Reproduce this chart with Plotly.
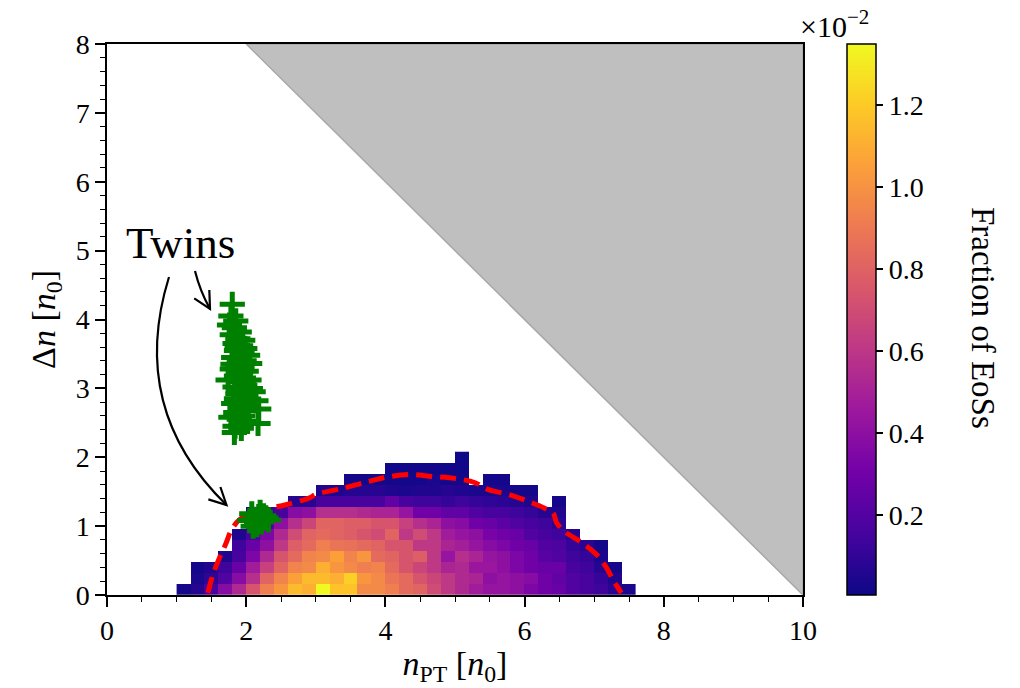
import math
import plotly.graph_objects as go

# ---------------- data ----------------
N_TOTAL = 20000  # number of EoSs (fraction = count / N_TOTAL)

# histogram bin centres (bin width 0.2 in n_PT, 0.16 in Delta n)
x_centers = [1.1, 1.3, 1.5, 1.7, 1.9, 2.1, 2.3, 2.5, 2.7, 2.9, 3.1, 3.3, 3.5,
             3.7, 3.9, 4.1, 4.3, 4.5, 4.7, 4.9, 5.1, 5.3, 5.5, 5.7, 5.9, 6.1,
             6.3, 6.5, 6.7, 6.9, 7.1, 7.3, 7.5]
y_centers = [0.08, 0.24, 0.40, 0.56, 0.72, 0.88, 1.04, 1.20, 1.36, 1.52,
             1.68, 1.84, 2.00]

# counts per column (bottom row first)
counts_by_column = [
    [5],
    [14, 8, 5],
    [32, 19, 11],
    [76, 38, 27, 11],
    [108, 76, 54, 32, 27, 11],
    [149, 113, 95, 68, 54, 32, 22, 8],
    [184, 162, 130, 108, 81, 68, 40, 22],
    [203, 189, 162, 149, 122, 108, 81, 32],
    [230, 211, 189, 167, 157, 140, 113, 76, 14],
    [221, 230, 194, 189, 167, 162, 135, 81, 16],
    [270, 230, 221, 194, 184, 167, 162, 113, 32, 11],
    [235, 221, 203, 211, 176, 162, 162, 113, 32, 11],
    [235, 243, 194, 189, 173, 157, 157, 113, 32, 14, 5],
    [194, 203, 184, 203, 167, 149, 157, 108, 32, 14, 5],
    [194, 194, 189, 167, 162, 140, 149, 103, 32, 14, 5],
    [184, 176, 167, 162, 149, 162, 149, 103, 49, 11, 5, 3],
    [167, 167, 149, 149, 149, 122, 130, 86, 32, 8, 5, 3],
    [162, 149, 135, 157, 122, 140, 113, 59, 27, 11, 5, 3],
    [140, 135, 122, 122, 122, 122, 103, 59, 27, 11, 8, 3],
    [122, 122, 103, 86, 103, 95, 81, 49, 22, 14, 5, 3],
    [108, 108, 108, 113, 97, 86, 76, 49, 27, 11, 5, 3, 2],
    [95, 103, 89, 103, 86, 81, 59, 38, 22, 8],
    [86, 81, 89, 86, 76, 65, 54, 32, 19, 8, 5],
    [86, 86, 81, 81, 68, 59, 46, 32, 16, 8, 5],
    [81, 81, 68, 68, 59, 54, 38, 27, 14, 5],
    [68, 76, 59, 59, 54, 40, 32, 22, 11, 5],
    [59, 59, 54, 43, 40, 32, 27, 14],
    [54, 49, 54, 38, 35, 27, 16, 11, 5],
    [40, 38, 32, 27, 22, 14],
    [32, 32, 27, 22, 16],
    [27, 22, 14, 8, 5],
    [16, 11, 5],
    [8],
]

# boundary (red dashed contour)
boundary_x = [1.45, 1.52, 1.62, 1.71, 1.78, 1.90, 2.09, 2.24, 2.57, 2.91, 3.00,
              3.39, 3.77, 4.01, 4.34, 4.68, 5.01, 5.29, 5.48, 5.77, 6.05, 6.29,
              6.41, 6.46, 6.58, 6.82, 7.04, 7.18, 7.27, 7.39]
boundary_y = [0.03, 0.29, 0.55, 0.75, 0.93, 1.09, 1.19, 1.24, 1.31, 1.41, 1.46,
              1.55, 1.65, 1.71, 1.75, 1.72, 1.69, 1.63, 1.53, 1.46, 1.36, 1.26,
              1.19, 1.05, 0.92, 0.76, 0.58, 0.39, 0.22, 0.03]

# twin-star EoSs
twins_high_x = [1.80, 1.78, 1.85, 1.76, 1.83, 1.90, 1.80, 1.88, 1.95, 1.84, 1.92,
                1.98, 1.86, 1.94, 2.02, 1.82, 1.90, 1.97, 2.05, 1.88, 1.94, 1.80,
                2.00, 1.92, 1.86, 1.96, 2.04, 1.90, 1.74, 1.98, 1.84, 1.93, 2.10,
                1.88, 1.99, 2.14, 1.86, 1.94, 2.03, 1.82, 1.91, 1.98, 2.18, 1.85,
                1.95, 1.78, 1.90, 2.02, 2.17, 1.84, 1.93, 1.83, 2.06, 1.87, 1.81]
twins_high_y = [4.22, 4.05, 3.98, 3.92, 3.88, 3.82, 3.78, 3.72, 3.70, 3.65, 3.62,
                3.58, 3.55, 3.52, 3.48, 3.45, 3.42, 3.40, 3.36, 3.33, 3.30, 3.28,
                3.25, 3.22, 3.18, 3.15, 3.12, 3.10, 3.12, 3.05, 3.02, 2.98, 2.95,
                2.92, 2.88, 2.82, 2.85, 2.80, 2.76, 2.78, 2.72, 2.68, 2.70, 2.65,
                2.60, 2.58, 2.55, 2.52, 2.49, 2.45, 2.42, 2.36, 3.00, 3.60, 3.35]
twins_low_x = [2.08, 2.12, 2.18, 2.22, 2.15, 2.28, 2.05, 2.20, 2.32, 2.10, 2.25, 2.17]
twins_low_y = [1.18, 1.10, 1.14, 1.06, 1.02, 1.12, 1.08, 1.20, 1.09, 1.00, 1.15, 1.08]

# excluded region: n_PT + Delta n > 10
excluded_x = [2, 10, 10, 2]
excluded_y = [8, 8, 0, 8]

colorbar_ticks = [0.2, 0.4, 0.6, 0.8, 1.0, 1.2]

# ---------------- build z (in units of 1e-2) ----------------
z = []
for j in range(len(y_centers)):
    row = []
    for col in counts_by_column:
        row.append(col[j] / N_TOTAL * 100 if j < len(col) else None)
    z.append(row)

FONT = "Liberation Serif"

# pixel helpers for decorative annotation geometry
L, R, T, B = 107, 803, 44, 595
def px2x(px):
    return (px - L) / (R - L) * 10
def py2y(py):
    return (B - py) / (B - T) * 8

fig = go.Figure()

fig.add_trace(go.Scatter(
    x=excluded_x, y=excluded_y, mode="lines", fill="toself",
    fillcolor="#bfbfbf", line=dict(color="#a8a8a8", width=1.5),
    hoverinfo="skip", showlegend=False))

fig.add_trace(go.Heatmap(
    x=x_centers, y=y_centers, z=z, colorscale="Plasma",
    zmin=0.005, zmax=1.35, hoverongaps=False,
    colorbar=dict(
        x=(847 - L) / (R - L), xanchor="left", xpad=0,
        y=0.5, yanchor="middle", len=1, lenmode="fraction", ypad=0,
        thickness=29, outlinewidth=1.5, outlinecolor="black",
        tickvals=colorbar_ticks, ticktext=[f"{v:.1f}" for v in colorbar_ticks],
        ticks="outside", ticklen=7, tickwidth=1.5, tickcolor="black",
        tickfont=dict(family=FONT, size=28, color="black")),
    showscale=True))

fig.add_trace(go.Scatter(
    x=boundary_x, y=boundary_y, mode="lines",
    line=dict(color="red", width=5, dash="16px,8px", shape="spline", smoothing=1.0),
    hoverinfo="skip", showlegend=False))

for xs, ys in [(twins_high_x, twins_high_y), (twins_low_x, twins_low_y)]:
    fig.add_trace(go.Scatter(
        x=xs, y=ys, mode="markers",
        marker=dict(symbol="cross-thin", size=18,
                    line=dict(width=5, color="#008000"), color="#008000"),
        hoverinfo="skip", showlegend=False))

# curved arrows
def arrow_paths(p0, q, p1, barb=19, ang=27):
    x0, y0 = p0; cx, cy = q; x1, y1 = p1
    curve = (f"M {px2x(x0)},{py2y(y0)} Q {px2x(cx)},{py2y(cy)} "
             f"{px2x(x1)},{py2y(y1)}")
    dx, dy = x1 - cx, y1 - cy
    n = math.hypot(dx, dy)
    bx, by = -dx / n, -dy / n
    pts = []
    for s in (1, -1):
        a = math.radians(ang) * s
        rx = bx * math.cos(a) - by * math.sin(a)
        ry = bx * math.sin(a) + by * math.cos(a)
        pts.append((x1 + barb * rx, y1 + barb * ry))
    head = (f"M {px2x(pts[0][0])},{py2y(pts[0][1])} L {px2x(x1)},{py2y(y1)} "
            f"L {px2x(pts[1][0])},{py2y(pts[1][1])}")
    return curve, head

shapes = []
for p0, q, p1 in [((169, 277), (128, 409), (226.5, 505)),
                  ((195, 271), (200, 291), (210, 309))]:
    for path in arrow_paths(p0, q, p1):
        shapes.append(dict(type="path", path=path, xref="x", yref="y",
                           line=dict(color="black", width=2.2)))

fig.update_layout(
    width=1020, height=688,
    margin=dict(l=L, r=1020 - R, t=T, b=688 - B, pad=0),
    plot_bgcolor="white", paper_bgcolor="white",
    font=dict(family=FONT, color="black", size=28),
    showlegend=False,
    shapes=shapes,
    xaxis=dict(range=[0, 10], tickvals=[0, 2, 4, 6, 8, 10],
               ticks="outside", ticklen=10, tickwidth=1.5, tickcolor="black",
               showline=True, linecolor="black", linewidth=1.5, mirror=True,
               showgrid=False, zeroline=False,
               minor=dict(dtick=0.5, ticks="outside", ticklen=5, tickwidth=1.2,
                          tickcolor="black", showgrid=False),
               tickfont=dict(size=28),
               title=dict(text="<i>n</i><sub>PT</sub> [<i>n</i><sub>0</sub>]",
                          font=dict(size=34), standoff=6)),
    yaxis=dict(range=[0, 8], tickvals=[0, 1, 2, 3, 4, 5, 6, 7, 8],
               ticks="outside", ticklen=10, tickwidth=1.5, tickcolor="black",
               showline=True, linecolor="black", linewidth=1.5, mirror=True,
               showgrid=False, zeroline=False,
               minor=dict(dtick=0.2, ticks="outside", ticklen=5, tickwidth=1.2,
                          tickcolor="black", showgrid=False),
               tickfont=dict(size=28),
               title=dict(text="Δ<i>n</i> [<i>n</i><sub>0</sub>]",
                          font=dict(size=34), standoff=10)),
    annotations=[
        dict(text="Twins", x=px2x(180), y=py2y(243), xref="x", yref="y",
             showarrow=False, font=dict(size=45, family=FONT)),
        dict(text="×10<sup>−2</sup>", x=(871 - L) / (R - L), y=(B - 24) / (B - T),
             xref="paper", yref="paper", xanchor="right", yanchor="middle",
             showarrow=False, font=dict(size=30, family=FONT)),
        dict(text="Fraction of EoSs", x=(983 - L) / (R - L), y=(B - 318) / (B - T),
             xref="paper", yref="paper", xanchor="center", yanchor="middle",
             textangle=90, showarrow=False, font=dict(size=33, family=FONT)),
    ],
)

fig.write_html("out.html")
